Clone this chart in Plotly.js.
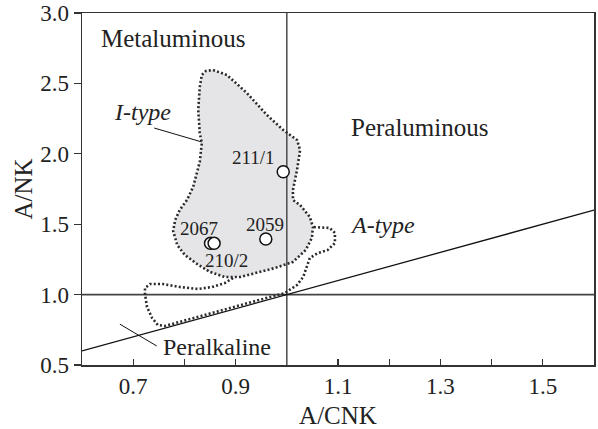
<!DOCTYPE html>
<html>
<head>
<meta charset="utf-8">
<script src="https://cdn.plot.ly/plotly-3.0.1.min.js"></script>
<style>html,body{margin:0;padding:0;background:#fff}#chart{width:598px;height:429px}</style>
</head>
<body>
<div id="chart"></div>
<script>
// ---- data ----
const sampleNames = ["2067", "210/2", "2059", "211/1"];
const sampleACNK = [0.851, 0.858, 0.959, 0.993];
const sampleANK = [1.364, 1.364, 1.395, 1.873];

const iTypeX = [0.856,0.883,0.922,0.961,0.993,1.020,1.026,1.020,1.012,1.012,1.026,1.045,1.051,1.049,1.037,1.012,0.977,0.938,0.909,0.879,0.850,0.825,0.801,0.786,0.778,0.782,0.791,0.805,0.817,0.830,0.834,0.830,0.827,0.830,0.834,0.842,0.856];
const iTypeY = [2.595,2.560,2.432,2.276,2.169,2.098,2.027,1.885,1.743,1.672,1.636,1.551,1.480,1.402,1.317,1.232,1.189,1.153,1.125,1.125,1.161,1.217,1.281,1.352,1.452,1.530,1.601,1.672,1.764,1.942,2.077,2.148,2.311,2.474,2.560,2.588,2.595];

const aTypeX = [0.895,0.879,0.854,0.827,0.791,0.758,0.733,0.723,0.723,0.727,0.737,0.748,0.762,0.800,0.900,0.996,1.020,1.032,1.039,1.045,1.061,1.080,1.094,1.094,1.084,1.065,1.051];
const aTypeY = [1.118,1.082,1.054,1.040,1.054,1.075,1.075,1.047,1.004,0.912,0.834,0.784,0.777,0.816,0.916,1.011,1.068,1.125,1.196,1.260,1.295,1.317,1.366,1.438,1.473,1.480,1.480];

const divideVX = [1.0, 1.0], divideVY = [0.5, 3.0];
const divideHX = [0.6, 1.6], divideHY = [1.0, 1.0];
const divideDX = [0.6, 1.6], divideDY = [0.6, 1.6];
const iLeaderX = [0.741, 0.834], iLeaderY = [2.183, 2.084];
const pLeaderX = [0.674, 0.746], pLeaderY = [0.79, 0.635];

const xTickVals = [0.7, 0.8, 0.9, 1.1, 1.2, 1.3, 1.4, 1.5];
const xTickText = ["0.7", "", "0.9", "1.1", "", "1.3", "", "1.5"];
const yTickVals = [0.5, 1.0, 1.5, 2.0, 2.5, 3.0];
const yTickText = ["0.5", "1.0", "1.5", "2.0", "2.5", "3.0"];

// sample label positions (data units) and anchors
const sampleLabelX = [0.828, 0.882, 0.958, 0.981];
const sampleLabelY = [1.470, 1.240, 1.495, 1.975];
const sampleLabelAnchor = ["center", "center", "center", "right"];

// ---- traces ----
const serif = "Liberation Serif";
const ink = "#222";
const dotLine = {color: "#2a2a2a", width: 2.6, dash: "2px,2.2px"};
const traces = [
  {x: iTypeX, y: iTypeY, mode: "lines", fill: "toself", fillcolor: "#e5e5e7", line: {color: "rgba(0,0,0,0)", width: 0}, hoverinfo: "skip"},
  {x: divideVX, y: divideVY, mode: "lines", line: {color: "#555", width: 1.6}, hoverinfo: "skip"},
  {x: divideHX, y: divideHY, mode: "lines", line: {color: "#444", width: 1.6}, hoverinfo: "skip"},
  {x: divideDX, y: divideDY, mode: "lines", line: {color: "#111", width: 1.3}, hoverinfo: "skip"},
  {x: iLeaderX, y: iLeaderY, mode: "lines", line: {color: "#111", width: 1}, hoverinfo: "skip"},
  {x: pLeaderX, y: pLeaderY, mode: "lines", line: {color: "#111", width: 1}, hoverinfo: "skip"},
  {x: iTypeX, y: iTypeY, mode: "lines", line: dotLine, hoverinfo: "skip"},
  {x: aTypeX, y: aTypeY, mode: "lines", line: dotLine, hoverinfo: "skip"},
  {x: sampleACNK, y: sampleANK, mode: "markers", text: sampleNames,
   marker: {size: 12, color: "#fff", line: {color: "#111", width: 1.5}}}
];

const txt = (t, x, y, size, anchor) => ({text: t, x: x, y: y, xref: "x", yref: "y", showarrow: false,
  xanchor: anchor || "left", font: {family: serif, size: size, color: ink}});

const annotations = [
  txt("Metaluminous", 0.633, 2.82, 25),
  txt("Peraluminous", 1.122, 2.19, 25),
  txt("<i>I-type</i>", 0.659, 2.295, 24),
  txt("<i>A-type</i>", 1.12, 1.494, 24),
  txt("Peralkaline", 0.755, 0.628, 24)
];
sampleNames.forEach((n, i) => {
  annotations.push(txt(n, sampleLabelX[i], sampleLabelY[i], 19, sampleLabelAnchor[i]));
});

const layout = {
  width: 598, height: 429,
  margin: {l: 82, r: 4, t: 13, b: 64},
  paper_bgcolor: "#fff", plot_bgcolor: "#fff",
  showlegend: false,
  xaxis: {range: [0.6, 1.6], tickvals: xTickVals, ticktext: xTickText, ticks: "inside", ticklen: 6, tickwidth: 1.3, tickcolor: "#333",
    showgrid: false, zeroline: false, showline: true, mirror: true, linecolor: "#333", linewidth: 1.5,
    tickfont: {family: serif, size: 23, color: ink},
    title: {text: "A/CNK", font: {family: serif, size: 25, color: ink}, standoff: 8}},
  yaxis: {range: [0.5, 3.0], tickvals: yTickVals, ticktext: yTickText, ticks: "outside", ticklen: 7, tickwidth: 1.3, tickcolor: "#333",
    showgrid: false, zeroline: false, showline: true, mirror: true, linecolor: "#333", linewidth: 1.5,
    tickfont: {family: serif, size: 23, color: ink},
    title: {text: "A/NK", font: {family: serif, size: 25, color: ink}, standoff: 0}},
  annotations: annotations
};

Plotly.newPlot("chart", traces, layout, {staticPlot: true, displayModeBar: false});
</script>
</body>
</html>
